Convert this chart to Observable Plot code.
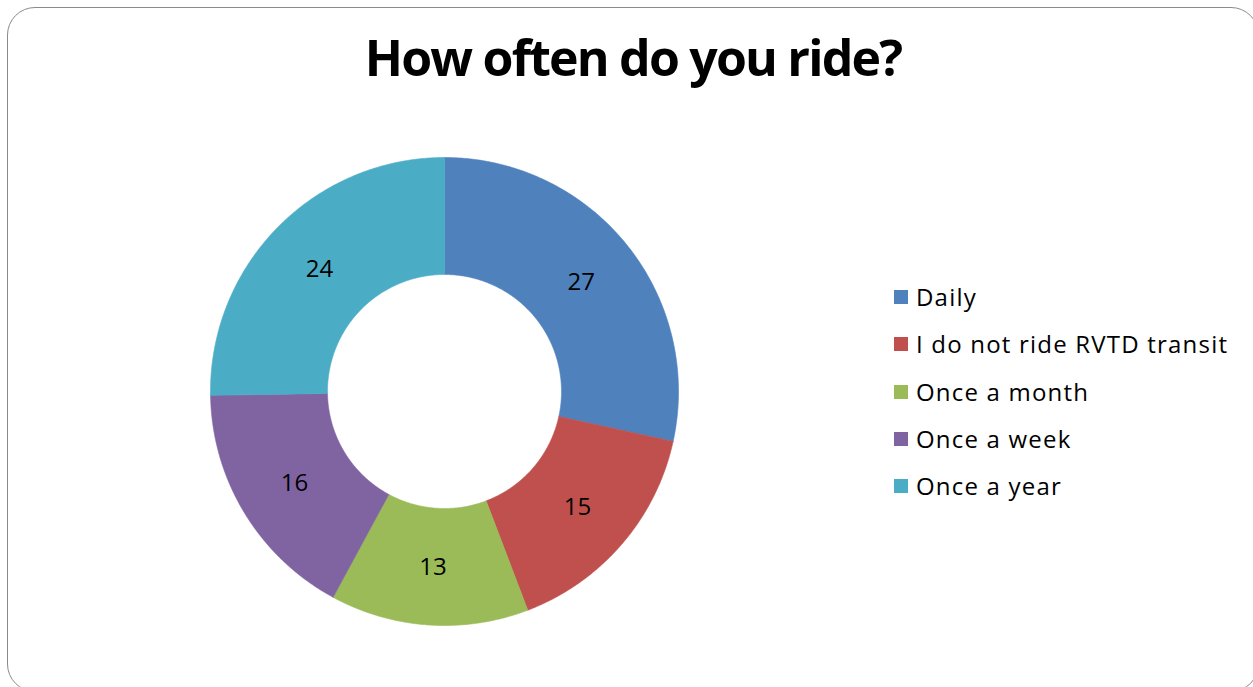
<!DOCTYPE html>
<html>
<head>
<meta charset="utf-8">
<script src="https://cdn.jsdelivr.net/npm/d3@7"></script>
<script src="https://cdn.jsdelivr.net/npm/@observablehq/plot@0.6"></script>
<style>
  html, body { margin: 0; padding: 0; background: #fff; }
  body { width: 1253px; height: 687px; overflow: hidden; position: relative; font-family: "Open Sans", sans-serif; }
  #frame { position: absolute; left: 7px; top: 7px; width: 1252px; height: 685px; border: 1.5px solid #8a8a8a; border-radius: 28px; box-sizing: border-box; }
  #title { position: absolute; left: 0; top: 22px; width: 1266px; text-align: center; font-weight: 700; font-size: 50px; letter-spacing: -1.8px; line-height: 70px; color: #000; white-space: nowrap; }
  #chart { position: absolute; left: 194px; top: 141px; }
  #legend { position: absolute; left: 894px; top: 285px; }
  .row { height: 47.25px; display: flex; align-items: flex-start; }
  .sw { width: 14px; height: 14px; margin-top: 5px; margin-right: 8px; flex: none; }
  .lab { font-size: 24px; line-height: 24px; letter-spacing: 1.2px; color: #000; white-space: nowrap; }
</style>
</head>
<body>
<div id="frame"></div>
<div id="title">How often do you ride?</div>
<div id="chart"></div>
<div id="legend"></div>
<script>
const categories = ["Daily", "I do not ride RVTD transit", "Once a month", "Once a week", "Once a year"];
const values = [27, 15, 13, 16, 24];
const colors = ["#4F81BD", "#C0504D", "#9BBB59", "#8064A2", "#4BACC6"];

const outerR = 1, innerR = 0.5;
const arcs = d3.pie().sort(null).value(d => d.value)(categories.map((c, i) => ({cat: c, value: values[i]})));

// Build slice outlines from the pie angles
const pts = [];
const labels = [];
for (const a of arcs) {
  const n = Math.max(4, Math.ceil((a.endAngle - a.startAngle) * 180 / Math.PI * 2));
  const ring = [];
  for (let k = 0; k <= n; k++) {
    const t = a.startAngle + (a.endAngle - a.startAngle) * k / n;
    ring.push([outerR * Math.sin(t), outerR * Math.cos(t)]);
  }
  for (let k = n; k >= 0; k--) {
    const t = a.startAngle + (a.endAngle - a.startAngle) * k / n;
    ring.push([innerR * Math.sin(t), innerR * Math.cos(t)]);
  }
  ring.push(ring[0]);
  for (const [px, py] of ring) pts.push({cat: a.data.cat, px, py});
  const m = (a.startAngle + a.endAngle) / 2, rm = (outerR + innerR) / 2;
  labels.push({cat: a.data.cat, value: a.data.value, lx: rm * Math.sin(m), ly: rm * Math.cos(m)});
}

const chart = Plot.plot({
  width: 500,
  height: 500,
  margin: 16,
  x: {domain: [-1, 1], axis: null},
  y: {domain: [-1, 1], axis: null},
  color: {domain: categories, range: colors},
  marks: [
    Plot.line(pts, {x: "px", y: "py", z: "cat", fill: "cat", stroke: "cat", strokeWidth: 0.6, curve: "linear"}),
    Plot.text(labels, {x: "lx", y: "ly", text: d => String(d.value), fontSize: 24, fill: "#000", fontFamily: "Open Sans", dy: 1})
  ]
});
document.getElementById("chart").appendChild(chart);

const legend = document.getElementById("legend");
categories.forEach((c, i) => {
  const row = document.createElement("div");
  row.className = "row";
  const sw = document.createElement("div");
  sw.className = "sw";
  sw.style.background = colors[i];
  const lab = document.createElement("div");
  lab.className = "lab";
  lab.textContent = c;
  row.appendChild(sw);
  row.appendChild(lab);
  legend.appendChild(row);
});
</script>
</body>
</html>
